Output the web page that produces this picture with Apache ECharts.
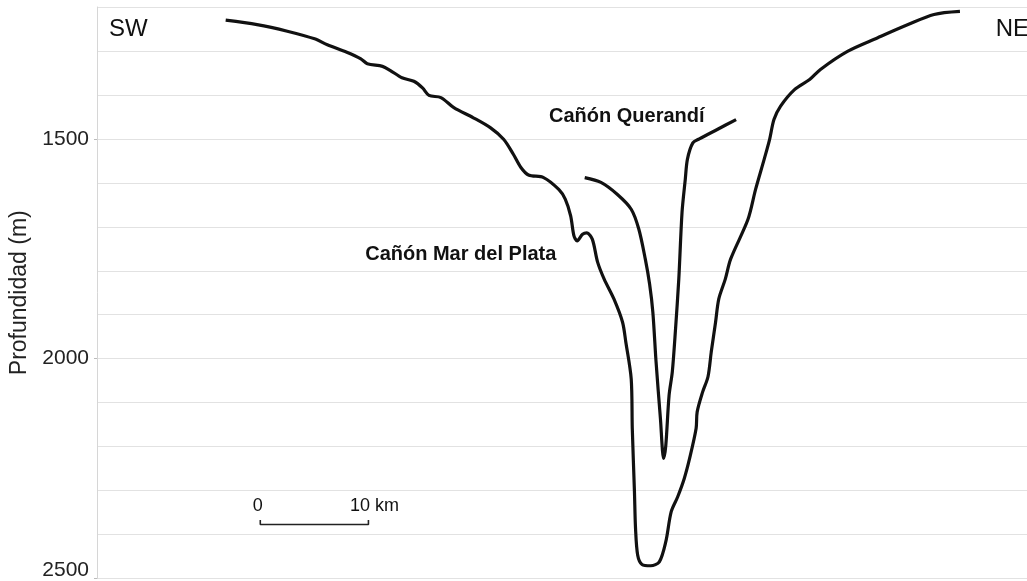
<!DOCTYPE html>
<html>
<head>
<meta charset="utf-8">
<script src="https://cdn.jsdelivr.net/npm/echarts@6/dist/echarts.min.js"></script>
<style>
html,body{margin:0;padding:0;background:#fff;}
#chart{width:1027px;height:581px;}
</style>
</head>
<body>
<div id="chart"></div>
<script>
// Main bathymetric profile SW -> NE (distance in km, depth in m)
var mainKm = [11.9,14.8,17.6,20.2,21.3,23.1,24.4,25.0,26.4,27.1,
  28.2,29.3,30.1,30.7,31.8,33.0,34.8,36.4,37.6,38.5,
  39.2,39.9,41.3,42.7,43.3,43.8,44.1,44.4,44.9,45.3,
  45.8,46.3,46.9,47.8,48.6,48.9,49.4,49.5,49.7,49.8,
  50.0,50.4,51.2,52.0,52.6,53.1,53.7,54.3,54.8,55.4,
  55.5,56.0,56.5,56.8,57.2,57.5,58.1,58.6,60.2,60.9,
  61.7,62.2,62.6,63.2,64.5,65.9,66.9,69.4,72.2,75.0,
  77.4,79.8];
var mainDepth = [1230,1240,1255,1273,1286,1303,1318,1329,1335,1344,
  1361,1369,1384,1401,1406,1429,1452,1475,1501,1535,
  1565,1582,1588,1615,1637,1675,1720,1732,1717,1714,
  1728,1781,1819,1864,1917,1962,2046,2159,2303,2386,
  2447,2468,2471,2462,2416,2348,2314,2273,2227,2159,
  2121,2076,2041,1985,1917,1864,1819,1773,1683,1615,
  1546,1501,1456,1426,1388,1365,1342,1301,1270,1240,
  1217,1210];
// Cañón Querandí profile
var querKm = [45.1,46.6,48.1,49.4,50.1,50.7,51.1,51.4,51.7,52.1,
  52.4,52.6,52.9,53.2,53.5,53.8,54.1,54.4,54.6,55.1,
  55.7,57.4,59.1];
var querDepth = [1588,1599,1626,1660,1705,1773,1830,1894,2008,2136,
  2227,2197,2084,2030,1932,1819,1667,1592,1546,1509,
  1500,1478,1456];
// Scale bar (0 – 10 km)
var scaleKm = [15.1,15.1,25.1,25.1];
var scaleDepth = [2367,2377,2377,2367];
// Y-axis labelled ticks
var yTickLabels = [1500,2000,2500];
// Text annotations
var annoText = ['SW','NE','Cañón Querandí','Cañón Mar del Plata','0','10 km'];
var annoKm = [1.1,83.1,41.8,24.8,14.4,23.4];
var annoDepth = [1251,1251,1449,1762,2336,2336];

function pairs(xs, ys){ return xs.map(function(x,i){ return [x, ys[i]]; }); }

var annoStyles = [
  {fontSize:24, fontWeight:'normal'},
  {fontSize:24, fontWeight:'normal'},
  {fontSize:20, fontWeight:'bold'},
  {fontSize:20, fontWeight:'bold'},
  {fontSize:18, fontWeight:'normal'},
  {fontSize:18, fontWeight:'normal'}
];
var FONT = 'Liberation Sans, Arial, sans-serif';
var annoData = annoText.map(function(t,i){
  return {
    value:[annoKm[i], annoDepth[i]],
    name:t,
    label:{show:true, formatter:t, color:'#111', fontFamily:FONT,
      fontSize:annoStyles[i].fontSize, fontWeight:annoStyles[i].fontWeight}
  };
});

var chart = echarts.init(document.getElementById('chart'), null, {renderer:'canvas'});
chart.setOption({
  animation:false,
  backgroundColor:'#fff',
  textStyle:{fontFamily:FONT},
  grid:{left:97, right:0, top:7, bottom:1, containLabel:false},
  xAxis:{
    type:'value', min:0, max:86,
    show:false
  },
  yAxis:[{
    type:'value', inverse:true, min:1200, max:2500, interval:100,
    name:'Profundidad (m)', nameLocation:'middle', nameGap:66,
    nameTextStyle:{fontSize:23, color:'#222', fontFamily:FONT},
    axisLine:{show:true, lineStyle:{color:'#d6d6d6', width:1}},
    axisTick:{show:false},
    axisLabel:{
      show:true, fontSize:21, color:'#222', margin:8, fontFamily:FONT,
      formatter:function(v){
        if (yTickLabels.indexOf(v) < 0) return '';
        if (v === 2500) return '{b|' + v + '}';
        return String(v);
      },
      rich:{b:{fontSize:21, color:'#222', padding:[0,0,16,0], fontFamily:FONT}}
    },
    splitLine:{show:true, lineStyle:{color:'#e2e2e2', width:1.2}}
  },{
    type:'value', inverse:true, min:1200, max:2500, position:'left',
    axisLine:{show:false},
    axisTick:{show:true, length:3, lineStyle:{color:'#bbb'}, customValues:yTickLabels},
    axisLabel:{show:false},
    splitLine:{show:false}
  }],
  series:[
    {
      type:'line', data:pairs(mainKm, mainDepth), smooth:0.3,
      symbol:'none', lineStyle:{color:'#111', width:3.2}, z:3
    },
    {
      type:'line', data:pairs(querKm, querDepth), smooth:0.3,
      symbol:'none', lineStyle:{color:'#111', width:3.2}, z:3
    },
    {
      type:'line', data:pairs(scaleKm, scaleDepth), smooth:false,
      symbol:'none', lineStyle:{color:'#222', width:1.6}, z:3
    },
    {
      type:'scatter', data:annoData, symbolSize:0, z:4,
      itemStyle:{color:'#111', opacity:1},
      label:{show:true, position:[0,0], align:'left', verticalAlign:'middle', color:'#111', fontFamily:FONT},
      emphasis:{disabled:true}, silent:true
    }
  ]
});
</script>
</body>
</html>
